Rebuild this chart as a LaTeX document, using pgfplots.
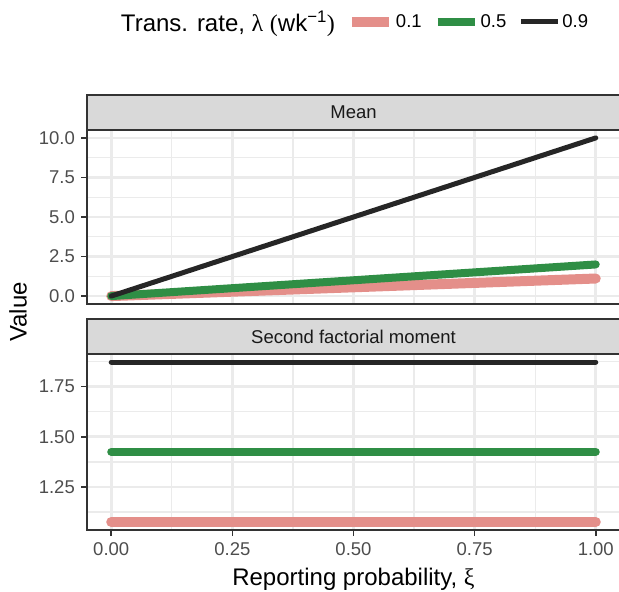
\documentclass[border=0pt]{standalone}
\usepackage{pgfplots}
\pgfplotsset{compat=1.18}
\usepackage{fontspec}
\setmainfont{Liberation Sans}
\newfontfamily\greekfont{Liberation Serif}
\definecolor{cred}{HTML}{E48F8A}
\definecolor{cgreen}{HTML}{2F8E45}
\definecolor{cblack}{HTML}{262626}
\definecolor{gridc}{HTML}{EBEBEB}
\definecolor{bordc}{HTML}{333333}
\definecolor{stripc}{HTML}{D9D9D9}
\definecolor{tickc}{HTML}{4D4D4D}
\newcommand{\ticksize}{\fontsize{18.5}{20}\selectfont}
\newcommand{\titlesize}{\fontsize{24}{28}\selectfont}
\pgfplotsset{
 panel/.style={
  width=533pt, scale only axis,
  xmin=-0.05, xmax=1.05,
  axis line style={bordc, line width=2pt},
  grid=both,
  major grid style={gridc, line width=2.6pt},
  minor grid style={gridc, line width=1.4pt},
  xtick={0,0.25,0.5,0.75,1},
  minor xtick={0.125,0.375,0.625,0.875},
  tick align=outside,
  tick pos=left,
  major tick length=6pt,
  minor tick length=0pt,
  tick style={bordc, line width=1.5pt},
  every tick label/.append style={font=\ticksize, text=tickc},
  /pgf/number format/assume math mode=true,
  yticklabel style={inner sep=0pt, xshift=-6pt},
  xticklabel style={inner sep=0pt, yshift=-6pt},
  clip=false,
 },
 series/.style={line cap=round},
}
\begin{document}
\begin{tikzpicture}[x=1pt,y=1pt]
\path[use as bounding box] (0,0) rectangle (619,592);
\begin{axis}[panel, name=top, at={(87pt,288pt)}, anchor=south west, height=174pt,
  ymin=-0.5, ymax=10.5, ytick={0,2.5,5,7.5,10}, yticklabels={0.0,2.5,5.0,7.5,10.0},
  minor ytick={1.25,3.75,6.25,8.75}, xticklabels={}, x tick style={draw=none},
  legend style={at={(0.502,1.621)}, anchor=center, draw=none, fill=none, legend columns=-1,
    font=\ticksize, /tikz/every even column/.append style={column sep=10pt}},
  legend image code/.code={\draw[#1,line cap=butt] (0pt,0pt) -- (37pt,0pt);},
]
\addlegendimage{empty legend}
\addlegendentry{\titlesize Trans. rate, {\greekfont λ} {\greekfont(}wk\textsuperscript{−1}{\greekfont)}}
\addplot[series, cred, line width=10pt] coordinates {(0,0) (1,1.111)};
\addlegendentry{0.1}
\addplot[series, cgreen, line width=8pt] coordinates {(0,0) (1,2)};
\addlegendentry{0.5}
\addplot[series, cblack, line width=5pt] coordinates {(0,0) (1,10)};
\addlegendentry{0.9}
\end{axis}
\begin{axis}[panel, name=bot, at={(87pt,62pt)}, anchor=south west, height=176pt,
  ymin=1.035, ymax=1.913, ytick={1.25,1.5,1.75}, yticklabels={1.25,1.50,1.75},
  minor ytick={1.125,1.375,1.625,1.875},
  xticklabels={0.00,0.25,0.50,0.75,1.00},
  xlabel={Reporting probability, {\greekfont ξ}}, xlabel style={font=\titlesize, inner sep=0pt, yshift=-13pt},
]
\addplot[series, cred, line width=10pt] coordinates {(0,1.075) (1,1.075)};
\addplot[series, cgreen, line width=8pt] coordinates {(0,1.425) (1,1.425)};
\addplot[series, cblack, line width=5pt] coordinates {(0,1.873) (1,1.873)};
\end{axis}
\draw[fill=stripc, draw=bordc, line width=2pt] (top.north west) rectangle ([yshift=35pt]top.north east);
\node[font=\ticksize, text=black!90] at ([yshift=17.5pt]top.north) {Mean};
\draw[fill=stripc, draw=bordc, line width=2pt] (bot.north west) rectangle ([yshift=35pt]bot.north east);
\node[font=\ticksize, text=black!90] at ([yshift=17.5pt]bot.north) {Second factorial moment};
\node[font=\titlesize, rotate=90] at (18,280) {Value};
\end{tikzpicture}
\end{document}
